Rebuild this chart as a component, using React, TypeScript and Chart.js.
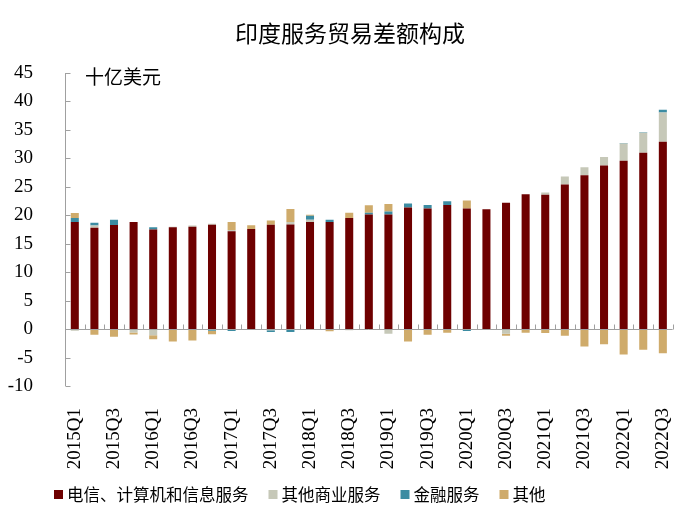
import React, { useEffect, useRef } from 'react';
import { Chart, registerables } from 'chart.js';
Chart.register(...registerables);

const categories = [
  '2015Q1','2015Q2','2015Q3','2015Q4','2016Q1','2016Q2','2016Q3','2016Q4',
  '2017Q1','2017Q2','2017Q3','2017Q4','2018Q1','2018Q2','2018Q3','2018Q4',
  '2019Q1','2019Q2','2019Q3','2019Q4','2020Q1','2020Q2','2020Q3','2020Q4',
  '2021Q1','2021Q2','2021Q3','2021Q4','2022Q1','2022Q2','2022Q3'
];
const telecom = [
  18.8, 17.8, 18.3, 18.8, 17.5, 17.9, 18.0, 18.35,
  17.2, 17.6, 18.35, 18.4, 18.8, 18.8, 19.5, 20.15,
  20.15, 21.35, 21.2, 21.8, 21.2, 21.05, 22.2, 23.7,
  23.6, 25.4, 27.05, 28.75, 29.6, 31.0, 32.9
];
const otherBusiness = [
  -0.3, 0.4, -0.15, -0.6, -1.1, 0.1, 0.2, 0.15,
  0.2, 0, -0.2, 0.4, 0.4, 0, -0.2, 0,
  -0.8, 0, 0, 0, 0, 0, -0.8, 0,
  0.4, 1.4, 1.4, 1.5, 3.0, 3.5, 5.15
];
const financial = [
  0.7, 0.5, 0.9, 0, 0.4, 0, 0, -0.3,
  -0.35, 0, -0.3, -0.5, 0.7, 0.4, 0, 0.3,
  0.5, 0.7, 0.6, 0.65, -0.35, 0, 0, 0,
  0, 0, 0, 0, 0.1, 0.1, 0.5
];
const others = [
  0.9, -1.0, -1.2, -0.35, -0.7, -2.2, -2.0, -0.6,
  1.4, 0.65, 0.75, 2.3, 0.2, -0.4, 0.95, 1.3,
  1.35, -2.2, -1.0, -0.65, 1.4, -0.15, -0.35, -0.65,
  -0.7, -1.15, -3.05, -2.65, -4.45, -3.65, -4.25
];
const seriesNames = ['电信、计算机和信息服务', '其他商业服务', '金融服务', '其他'];
const seriesColors = ['#6E0000', '#C6C8B8', '#3C8CA2', '#CFAB6B'];
const titleText = '印度服务贸易差额构成';
const unitText = '十亿美元';
const yMin = -10;
const yMax = 45;
const yStep = 5;

const CJK = '"Noto Sans CJK SC", sans-serif';
const SERIF = '"Liberation Serif", "Times New Roman", serif';
const AXIS_COLOR = '#A0A0A0';

const extrasPlugin = {
  id: 'extras',
  afterDatasetsDraw(chart: any) {
    const { ctx, chartArea, scales } = chart;
    const y = scales.y;
    const n = categories.length;
    ctx.save();
    ctx.strokeStyle = AXIS_COLOR;
    ctx.lineWidth = 1;
    // y axis line + inward ticks
    const xl = Math.round(chartArea.left) + 0.5;
    ctx.beginPath();
    ctx.moveTo(xl, chartArea.top);
    ctx.lineTo(xl, chartArea.bottom);
    for (let v = yMin; v <= yMax; v += yStep) {
      const py = Math.round(y.getPixelForValue(v)) + 0.5;
      ctx.moveTo(xl, py);
      ctx.lineTo(xl + 5, py);
    }
    ctx.stroke();
    // zero line with category tick marks pointing up
    const y0 = Math.round(y.getPixelForValue(0)) + 0.5;
    const w = (chartArea.right - chartArea.left) / n;
    ctx.beginPath();
    ctx.moveTo(chartArea.left, y0);
    ctx.lineTo(chartArea.right, y0);
    for (let i = 1; i <= n; i++) {
      const px = Math.round(chartArea.left + i * w) + 0.5;
      ctx.moveTo(px, y0);
      ctx.lineTo(px, y0 - 5);
    }
    ctx.stroke();
    ctx.restore();
  },
  afterDraw(chart: any) {
    const { ctx } = chart;
    ctx.save();
    ctx.fillStyle = '#000';
    // title
    ctx.font = `23px ${CJK}`;
    ctx.textAlign = 'center';
    ctx.textBaseline = 'middle';
    ctx.fillText(titleText, 350, 33);
    // unit
    ctx.font = `19px ${CJK}`;
    ctx.textAlign = 'left';
    ctx.fillText(unitText, 85, 77);
    // legend
    ctx.font = `16.5px ${CJK}`;
    let x = 54;
    const ly = 495;
    chart.data.datasets.forEach((ds: any) => {
      ctx.fillStyle = ds.backgroundColor;
      ctx.fillRect(x, ly - 5, 9, 9);
      ctx.fillStyle = '#000';
      ctx.textAlign = 'left';
      ctx.textBaseline = 'middle';
      ctx.fillText(ds.label, x + 13, ly);
      x += 13 + ctx.measureText(ds.label).width + 20;
    });
    ctx.restore();
  },
};

export default function App() {
  const ref = useRef<HTMLCanvasElement>(null);
  useEffect(() => {
    if (!ref.current) return;
    const values = [telecom, otherBusiness, financial, others];
    const chart = new Chart(ref.current, {
      type: 'bar',
      data: {
        labels: categories,
        datasets: values.map((d, i) => ({
          label: seriesNames[i],
          data: d,
          backgroundColor: seriesColors[i],
          borderWidth: 0,
          barPercentage: 0.41,
          categoryPercentage: 1,
        })),
      },
      options: {
        responsive: false,
        animation: false,
        devicePixelRatio: 1,
        layout: { padding: { top: 73, right: 22, left: 0, bottom: 0 } },
        plugins: {
          legend: { display: false },
          title: { display: false },
          tooltip: { enabled: false },
        },
        scales: {
          x: {
            stacked: true,
            grid: { display: false },
            border: { display: false },
            ticks: {
              autoSkip: false,
              minRotation: 90,
              maxRotation: 90,
              padding: 14,
              color: '#000',
              font: { family: SERIF, size: 19 },
              callback: (_v: any, i: number) => (i % 2 === 0 ? categories[i] : ''),
            },
            afterFit: (s: any) => { s.height = 139; },
          },
          y: {
            stacked: true,
            min: yMin,
            max: yMax,
            grid: { display: false },
            border: { display: false },
            ticks: {
              stepSize: yStep,
              padding: 24,
              color: '#000',
              font: { family: SERIF, size: 19 },
            },
            afterFit: (s: any) => { s.width = 65; },
          },
        },
      },
      plugins: [extrasPlugin],
    });
    return () => chart.destroy();
  }, []);
  return (
    <div style={{ position: 'fixed', left: 0, top: 0, width: 700, height: 525, background: '#fff' }}>
      <canvas ref={ref} width={700} height={525} />
    </div>
  );
}
